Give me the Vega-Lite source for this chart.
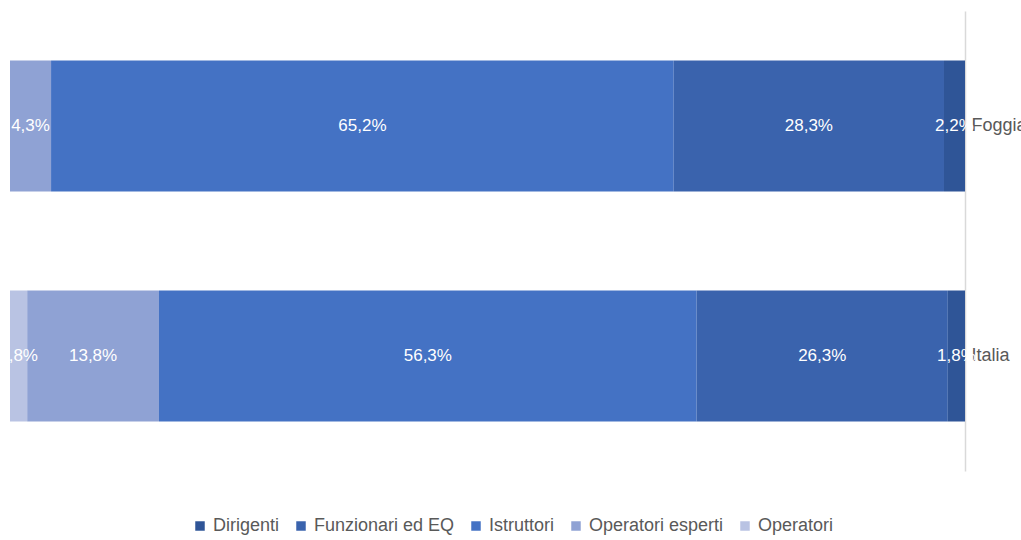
{
  "$schema": "https://vega.github.io/schema/vega-lite/v6.json",
  "width": 955,
  "height": 460,
  "autosize": {"type": "none"},
  "padding": {"left": 10, "top": 11, "right": 56, "bottom": 69},
  "background": "white",
  "config": {
    "view": {"stroke": null},
    "font": "Liberation Sans, Arial, sans-serif",
    "locale": {"number": {"decimal": ",", "thousands": ".", "grouping": [3], "currency": ["", " €"]}}
  },
  "data": {
    "values": [
      {"area": "Foggia", "categoria": "Operatori", "ord": 1, "pct": 0},
      {"area": "Foggia", "categoria": "Operatori esperti", "ord": 2, "pct": 4.3},
      {"area": "Foggia", "categoria": "Istruttori", "ord": 3, "pct": 65.2},
      {"area": "Foggia", "categoria": "Funzionari ed EQ", "ord": 4, "pct": 28.3},
      {"area": "Foggia", "categoria": "Dirigenti", "ord": 5, "pct": 2.2},
      {"area": "Italia", "categoria": "Operatori", "ord": 1, "pct": 1.8},
      {"area": "Italia", "categoria": "Operatori esperti", "ord": 2, "pct": 13.8},
      {"area": "Italia", "categoria": "Istruttori", "ord": 3, "pct": 56.3},
      {"area": "Italia", "categoria": "Funzionari ed EQ", "ord": 4, "pct": 26.3},
      {"area": "Italia", "categoria": "Dirigenti", "ord": 5, "pct": 1.8}
    ]
  },
  "transform": [
    {"stack": "pct", "groupby": ["area"], "sort": [{"field": "ord", "order": "ascending"}], "as": ["x0", "x1"]},
    {"calculate": "(datum.x0 + datum.x1) / 2", "as": "xmid"},
    {"calculate": "datum.pct / 100", "as": "frac"}
  ],
  "encoding": {
    "y": {
      "field": "area",
      "type": "nominal",
      "sort": ["Foggia", "Italia"],
      "title": null,
      "scale": {"paddingInner": 0.43, "paddingOuter": 0.215},
      "axis": {
        "orient": "right",
        "ticks": false,
        "domainColor": "#D9D9D9",
        "domainWidth": 1.5,
        "labelPadding": 6,
        "labelFontSize": 18,
        "labelColor": "#595959",
        "labelAlign": "left"
      }
    }
  },
  "layer": [
    {
      "mark": {"type": "bar"},
      "encoding": {
        "x": {"field": "x0", "type": "quantitative", "scale": {"domain": [0, 100], "nice": false}, "axis": null},
        "x2": {"field": "x1"},
        "color": {
          "field": "categoria",
          "type": "nominal",
          "scale": {
            "domain": ["Dirigenti", "Funzionari ed EQ", "Istruttori", "Operatori esperti", "Operatori"],
            "range": ["#2F5597", "#3A63AD", "#4472C4", "#8FA2D4", "#B9C3E3"]
          },
          "legend": {
            "title": null,
            "orient": "none",
            "direction": "horizontal",
            "legendX": 181,
            "legendY": 506,
            "symbolType": "square",
            "symbolSize": 90,
            "symbolStrokeWidth": 0,
            "labelFontSize": 18,
            "labelColor": "#595959",
            "columnPadding": 12,
            "labelOffset": 4
          }
        }
      }
    },
    {
      "transform": [{"filter": "datum.pct > 0"}],
      "mark": {"type": "text", "color": "white", "fontSize": 17, "baseline": "middle", "align": "center"},
      "encoding": {
        "x": {"field": "xmid", "type": "quantitative"},
        "text": {"field": "frac", "type": "quantitative", "format": ".1%"}
      }
    }
  ]
}
